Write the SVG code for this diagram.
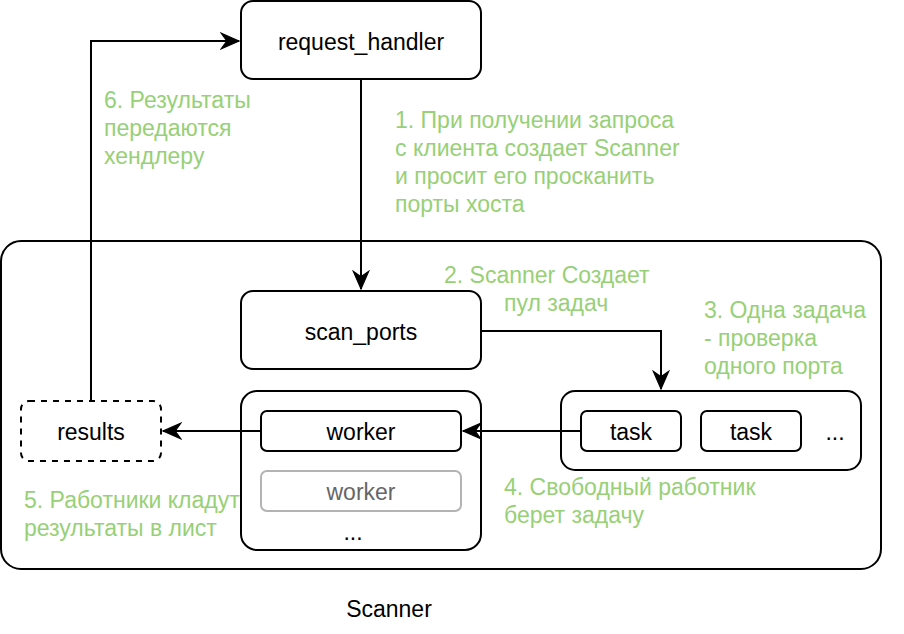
<svg xmlns="http://www.w3.org/2000/svg" width="904" height="634" viewBox="0 0 904 634">
<style>
  .box { fill: #ffffff; stroke: #000000; stroke-width: 2; }
  .dash { fill: #ffffff; stroke: #000000; stroke-width: 2; stroke-dasharray: 6 6; }
  .gray { fill: #ffffff; stroke: #b3b3b3; stroke-width: 2; }
  .t { font-family: "Liberation Sans", Arial, sans-serif; font-size: 23px; fill: #000000; }
  .tg { font-family: "Liberation Sans", Arial, sans-serif; font-size: 23px; fill: #666666; }
  .c { text-anchor: middle; }
  .lbl { font-family: "Liberation Sans", Arial, sans-serif; font-size: 23px; fill: #97d077; }
  .edge { fill: none; stroke: #000000; stroke-width: 2; }
</style>
<defs>
  <marker id="arrow" markerUnits="userSpaceOnUse" markerWidth="20" markerHeight="20" viewBox="-17 -8 18 16" refX="0" refY="0" orient="auto">
    <path d="M0,0 L-16,-7 L-11,0 L-16,7 Z" fill="#000000" stroke="#000000" stroke-width="1"/>
  </marker>
</defs>
<rect width="904" height="634" fill="#ffffff"/>

<g id="scanner">
  <rect class="box" x="1" y="241" width="880" height="328" rx="20"/>
  <text class="t c" x="389" y="617">Scanner</text>
</g>

<g id="request_handler">
  <rect class="box" x="241" y="1" width="240" height="78" rx="12"/>
  <text class="t c" x="361" y="50">request_handler</text>
</g>

<g id="scan_ports">
  <rect class="box" x="241" y="291" width="240" height="78" rx="12"/>
  <text class="t c" x="361" y="340">scan_ports</text>
</g>

<g id="workers">
  <rect class="box" x="241" y="391" width="240" height="159" rx="16"/>
  <text class="t c" x="353" y="540">...</text>
</g>

<g id="worker1">
  <rect class="box" x="261" y="411" width="200" height="40" rx="6"/>
  <text class="t c" x="361" y="440">worker</text>
</g>

<g id="worker2">
  <rect class="gray" x="261" y="471" width="200" height="40" rx="6"/>
  <text class="tg c" x="361" y="500">worker</text>
</g>

<g id="results">
  <rect class="dash" x="21" y="401" width="140" height="60" rx="8"/>
  <text class="t c" x="91" y="440">results</text>
</g>

<g id="tasks">
  <rect class="box" x="561" y="391" width="300" height="79" rx="14"/>
  <text class="t c" x="835" y="440">...</text>
</g>

<g id="task1">
  <rect class="box" x="581" y="411" width="100" height="40" rx="6"/>
  <text class="t c" x="631" y="440">task</text>
</g>

<g id="task2">
  <rect class="box" x="701" y="411" width="100" height="40" rx="6"/>
  <text class="t c" x="751" y="440">task</text>
</g>

<g id="connectors">
  <path class="edge" d="M361,79 L361,289" marker-end="url(#arrow)"/>
  <path class="edge" d="M481,331 L661,331 L661,389" marker-end="url(#arrow)"/>
  <path class="edge" d="M581,431 L463,431" marker-end="url(#arrow)"/>
  <path class="edge" d="M261,431 L163,431" marker-end="url(#arrow)"/>
  <path class="edge" d="M91,401 L91,41 L239,41" marker-end="url(#arrow)"/>
</g>

<g id="labels">
  <text class="lbl" x="395" y="128">1. При получении запроса</text>
  <text class="lbl" x="395" y="156">с клиента создает Scanner</text>
  <text class="lbl" x="395" y="184">и просит его просканить</text>
  <text class="lbl" x="395" y="212">порты хоста</text>

  <text class="lbl" x="444" y="283">2. Scanner Создает</text>
  <text class="lbl" x="504" y="311">пул задач</text>

  <text class="lbl" x="704" y="318">3. Одна задача</text>
  <text class="lbl" x="704" y="346">- проверка</text>
  <text class="lbl" x="704" y="374">одного порта</text>

  <text class="lbl" x="504" y="495">4. Свободный работник</text>
  <text class="lbl" x="504" y="523">берет задачу</text>

  <text class="lbl" x="24" y="508">5. Работники кладут</text>
  <text class="lbl" x="24" y="536">результаты в лист</text>

  <text class="lbl" x="104" y="108">6. Результаты</text>
  <text class="lbl" x="104" y="136">передаются</text>
  <text class="lbl" x="104" y="164">хендлеру</text>
</g>
</svg>
